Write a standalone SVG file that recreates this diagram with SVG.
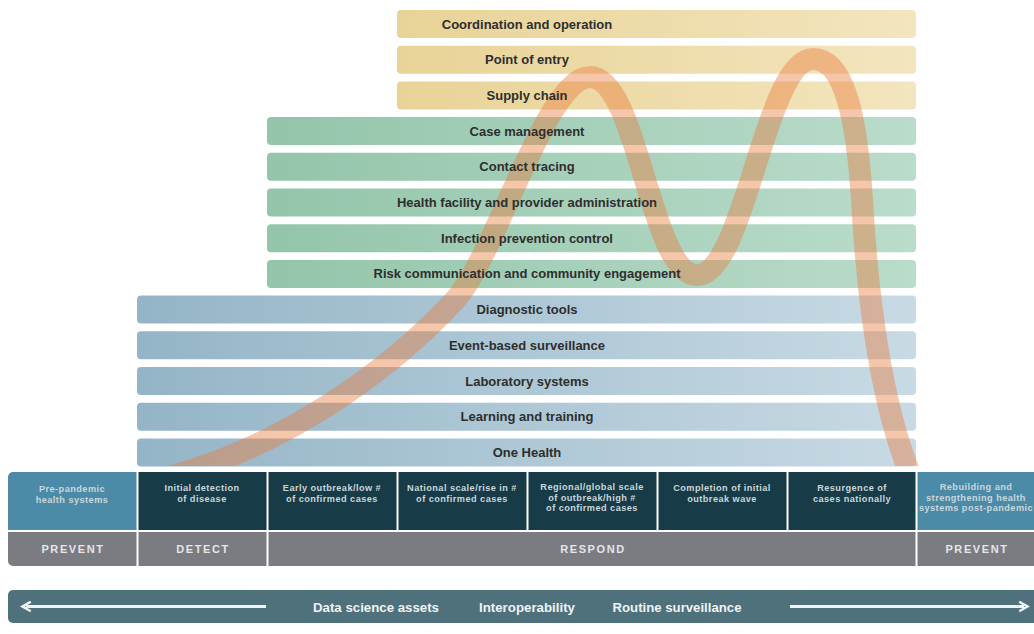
<svg xmlns="http://www.w3.org/2000/svg" width="1034" height="634" viewBox="0 0 1034 634">
<style>
.bar-t{font-family:"Liberation Sans",Arial,sans-serif;font-weight:bold;font-size:13px;fill:#2e2e2e;text-anchor:middle}
.cell-t{font-family:"Liberation Sans",Arial,sans-serif;font-weight:bold;font-size:9.2px;fill:#c9d6da;text-anchor:middle;letter-spacing:0.45px}
.phase-t{font-family:"Liberation Sans",Arial,sans-serif;font-weight:bold;font-size:11px;fill:#e4e6e8;text-anchor:middle;letter-spacing:1.6px}
.foot-t{font-family:"Liberation Sans",Arial,sans-serif;font-weight:bold;font-size:13.5px;fill:#eef3f4;text-anchor:middle}
.dark{fill:#173b47}
.light{fill:#4b8ba8}
.gray{fill:#7b7c81}
</style>
<defs>
<linearGradient id="gy" x1="0" x2="1" y1="0" y2="0"><stop offset="0" stop-color="#e8d397"/><stop offset="1" stop-color="#f3e5be"/></linearGradient>
<linearGradient id="gg" x1="0" x2="1" y1="0" y2="0"><stop offset="0" stop-color="#93c5aa"/><stop offset="1" stop-color="#badccb"/></linearGradient>
<linearGradient id="gb" x1="0" x2="1" y1="0" y2="0"><stop offset="0" stop-color="#94b5c7"/><stop offset="1" stop-color="#c8dae4"/></linearGradient>
<clipPath id="curveclip"><rect x="0" y="0" width="1034" height="466"/></clipPath>
<clipPath id="tableclip"><rect x="8" y="472" width="1040" height="94" rx="5"/></clipPath>
<marker id="ah" viewBox="0 0 10 10" refX="5" refY="5" markerWidth="4" markerHeight="4" orient="auto-start-reverse" markerUnits="strokeWidth">
<path d="M1,1 L8,5 L1,9" fill="none" stroke="#eef3f4" stroke-width="2"/>
</marker>
</defs>

<g id="bars">
<g id="coordination"><rect x="397" y="10" width="519" height="28" rx="4" fill="url(#gy)"/></g>
<g id="point-of-entry"><rect x="397" y="45.7" width="519" height="28" rx="4" fill="url(#gy)"/></g>
<g id="supply-chain"><rect x="397" y="81.4" width="519" height="28" rx="4" fill="url(#gy)"/></g>
<g id="case-management"><rect x="267" y="117.1" width="649" height="28" rx="4" fill="url(#gg)"/></g>
<g id="contact-tracing"><rect x="267" y="152.8" width="649" height="28" rx="4" fill="url(#gg)"/></g>
<g id="health-facility"><rect x="267" y="188.5" width="649" height="28" rx="4" fill="url(#gg)"/></g>
<g id="infection-prevention"><rect x="267" y="224.2" width="649" height="28" rx="4" fill="url(#gg)"/></g>
<g id="risk-communication"><rect x="267" y="259.9" width="649" height="28" rx="4" fill="url(#gg)"/></g>
<g id="diagnostic-tools"><rect x="137" y="295.6" width="779" height="28" rx="4" fill="url(#gb)"/></g>
<g id="event-based"><rect x="137" y="331.3" width="779" height="28" rx="4" fill="url(#gb)"/></g>
<g id="laboratory"><rect x="137" y="367" width="779" height="28" rx="4" fill="url(#gb)"/></g>
<g id="learning"><rect x="137" y="402.7" width="779" height="28" rx="4" fill="url(#gb)"/></g>
<g id="one-health"><rect x="137" y="438.4" width="779" height="28" rx="4" fill="url(#gb)"/></g>
</g>

<g id="connectors" clip-path="url(#curveclip)">
<path d="M172,476 C295,442 398,362 455,300 C495,257 546,77 590,77 C638,77 650,275 697,275 C745,275 765,59 813,59 C845,59 857,120 862,200 C867,290 880,400 910,474" fill="none" stroke="#eb7a3c" stroke-opacity="0.43" stroke-width="22"/>
</g>

<g id="bar-labels">
<text class="bar-t" x="527" y="28.5">Coordination and operation</text>
<text class="bar-t" x="527" y="64.2">Point of entry</text>
<text class="bar-t" x="527" y="99.9">Supply chain</text>
<text class="bar-t" x="527" y="135.6">Case management</text>
<text class="bar-t" x="527" y="171.3">Contact tracing</text>
<text class="bar-t" x="527" y="207">Health facility and provider administration</text>
<text class="bar-t" x="527" y="242.7">Infection prevention control</text>
<text class="bar-t" x="527" y="278.4">Risk communication and community engagement</text>
<text class="bar-t" x="527" y="314.1">Diagnostic tools</text>
<text class="bar-t" x="527" y="349.8">Event-based surveillance</text>
<text class="bar-t" x="527" y="385.5">Laboratory systems</text>
<text class="bar-t" x="527" y="421.2">Learning and training</text>
<text class="bar-t" x="527" y="456.9">One Health</text>
</g>

<g id="table" clip-path="url(#tableclip)">
<g id="stage-pre"><rect class="light" x="8" y="472" width="128.5" height="58"/>
<text class="cell-t" x="72" y="492">Pre-pandemic</text><text class="cell-t" x="72" y="503">health systems</text></g>
<g id="stage-initial"><rect class="dark" x="138.5" y="472" width="128" height="58"/>
<text class="cell-t" x="202" y="491">Initial detection</text><text class="cell-t" x="202" y="502">of disease</text></g>
<g id="stage-early"><rect class="dark" x="268.5" y="472" width="128" height="58"/>
<text class="cell-t" x="332" y="491">Early outbreak/low #</text><text class="cell-t" x="332" y="502">of confirmed cases</text></g>
<g id="stage-national"><rect class="dark" x="398.5" y="472" width="128" height="58"/>
<text class="cell-t" x="462" y="491">National scale/rise in #</text><text class="cell-t" x="462" y="502">of confirmed cases</text></g>
<g id="stage-regional"><rect class="dark" x="528.5" y="472" width="128" height="58"/>
<text class="cell-t" x="592" y="490">Regional/global scale</text><text class="cell-t" x="592" y="500.5">of outbreak/high #</text><text class="cell-t" x="592" y="511">of confirmed cases</text></g>
<g id="stage-completion"><rect class="dark" x="658.5" y="472" width="128" height="58"/>
<text class="cell-t" x="722" y="491">Completion of initial</text><text class="cell-t" x="722" y="502">outbreak wave</text></g>
<g id="stage-resurgence"><rect class="dark" x="788.5" y="472" width="127" height="58"/>
<text class="cell-t" x="852" y="491">Resurgence of</text><text class="cell-t" x="852" y="502">cases nationally</text></g>
<g id="stage-rebuilding"><rect class="light" x="917.5" y="472" width="130" height="58"/>
<text class="cell-t" x="976" y="490">Rebuilding and</text><text class="cell-t" x="976" y="500.5">strengthening health</text><text class="cell-t" x="976" y="511">systems post-pandemic</text></g>
<g id="phase-prevent-1"><rect class="gray" x="8" y="532" width="128.5" height="34"/><text class="phase-t" x="73" y="552.5">PREVENT</text></g>
<g id="phase-detect"><rect class="gray" x="138.5" y="532" width="128" height="34"/><text class="phase-t" x="203" y="552.5">DETECT</text></g>
<g id="phase-respond"><rect class="gray" x="268.5" y="532" width="647" height="34"/><text class="phase-t" x="593" y="552.5">RESPOND</text></g>
<g id="phase-prevent-2"><rect class="gray" x="917.5" y="532" width="130" height="34"/><text class="phase-t" x="977" y="552.5">PREVENT</text></g>
</g>

<g id="foundation">
<rect x="8" y="590" width="1040" height="33" rx="5" fill="#4f717b"/>
<line x1="266" y1="606.5" x2="26" y2="606.5" stroke="#eef3f4" stroke-width="3" marker-end="url(#ah)"/>
<line x1="790" y1="606.5" x2="1024" y2="606.5" stroke="#eef3f4" stroke-width="3" marker-end="url(#ah)"/>
<text class="foot-t" x="376" y="611.5" textLength="126" lengthAdjust="spacingAndGlyphs">Data science assets</text>
<text class="foot-t" x="527" y="611.5" textLength="96" lengthAdjust="spacingAndGlyphs">Interoperability</text>
<text class="foot-t" x="677" y="611.5" textLength="129" lengthAdjust="spacingAndGlyphs">Routine surveillance</text>
</g>
</svg>
